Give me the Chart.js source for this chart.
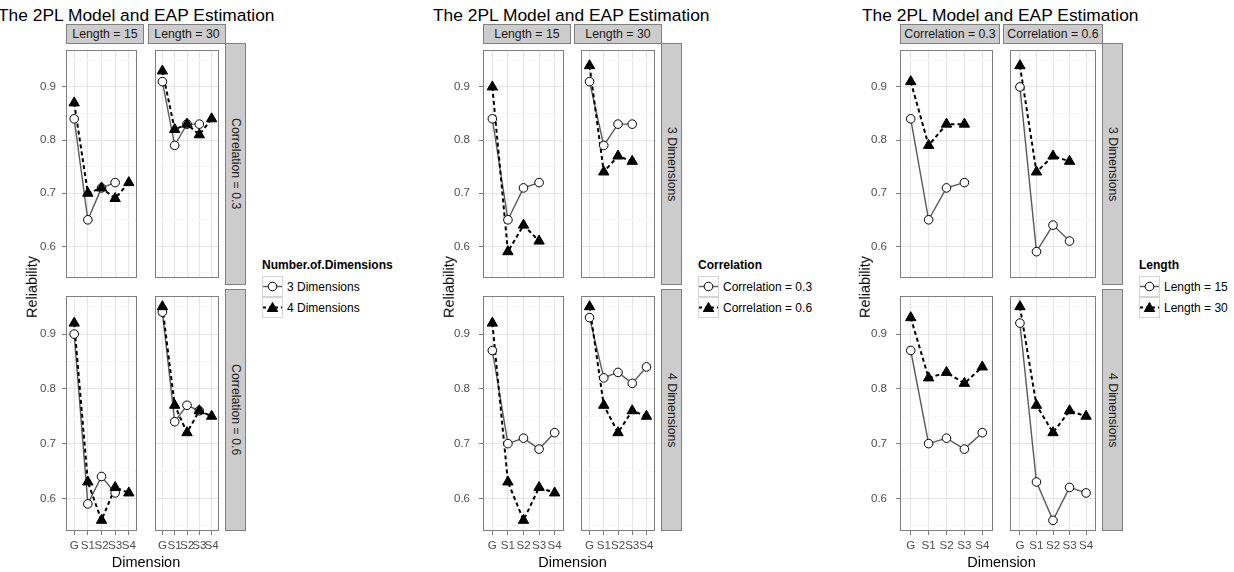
<!DOCTYPE html>
<html>
<head>
<meta charset="utf-8">
<title>The 2PL Model and EAP Estimation</title>
<script src="https://cdn.jsdelivr.net/npm/chart.js@4/dist/chart.umd.min.js"></script>
<style>
  html, body { margin: 0; padding: 0; background: #fff; }
  body { width: 1234px; height: 572px; position: relative; overflow: hidden;
         font-family: 'Liberation Sans', Arial, sans-serif; }
  canvas { position: absolute; }
  .txt { position: absolute; white-space: nowrap; line-height: 1; }
  .strip { position: absolute; box-sizing: border-box; background: #cccccc;
           border: 1px solid #7f7f7f; display: flex; align-items: center;
           justify-content: center; font-size: 12.3px; color: #1a1a1a; white-space: nowrap; }
  .strip.vert span { writing-mode: vertical-rl; }
  .key { position: absolute; box-sizing: border-box; border: 1px solid #d4d4d4; background: #fff; }
</style>
</head>
<body>
<script>
// ---- data -------------------------------------------------------------
const dimensionLabels = ['G', 'S1', 'S2', 'S3', 'S4'];
const yTickValues = [0.55, 0.6, 0.65, 0.7, 0.75, 0.8, 0.85, 0.9, 0.95];

const dimensionLevels = ['3 Dimensions', '4 Dimensions'];
const correlationLevels = ['Correlation = 0.3', 'Correlation = 0.6'];
const lengthLevels = ['Length = 15', 'Length = 30'];

// reliability per dimension: rel_<dimensions>_<correlation>_<length>
const rel_3D_r03_L15 = [0.84, 0.65, 0.71, 0.72];
const rel_3D_r03_L30 = [0.91, 0.79, 0.83, 0.83];
const rel_3D_r06_L15 = [0.90, 0.59, 0.64, 0.61];
const rel_3D_r06_L30 = [0.94, 0.74, 0.77, 0.76];
const rel_4D_r03_L15 = [0.87, 0.70, 0.71, 0.69, 0.72];
const rel_4D_r03_L30 = [0.93, 0.82, 0.83, 0.81, 0.84];
const rel_4D_r06_L15 = [0.92, 0.63, 0.56, 0.62, 0.61];
const rel_4D_r06_L30 = [0.95, 0.77, 0.72, 0.76, 0.75];

// y range: data range 0.56..0.95 expanded by 5%
const yMin = 0.5405;
const yMax = 0.9695;

// ---- lookup -----------------------------------------------------------
const reliability = {
  dim0: { corr0: { len0: rel_3D_r03_L15, len1: rel_3D_r03_L30 },
          corr1: { len0: rel_3D_r06_L15, len1: rel_3D_r06_L30 } },
  dim1: { corr0: { len0: rel_4D_r03_L15, len1: rel_4D_r03_L30 },
          corr1: { len0: rel_4D_r06_L15, len1: rel_4D_r06_L30 } }
};
const levels = { dim: dimensionLevels, corr: correlationLevels, len: lengthLevels };
function getSeries(f) { return reliability['dim' + f.dim]['corr' + f.corr]['len' + f.len]; }

// ---- layout -----------------------------------------------------------
const FONT = "'Liberation Sans', Arial, sans-serif";
const stripY = [24, 43];
const rowsY = [[43, 285], [289, 531]];

const plots = [
  { title: 'The 2PL Model and EAP Estimation', titleX: -2,
    cols: 'len', rows: 'corr', series: 'dim', legendTitle: 'Number.of.Dimensions',
    panelX: [[66, 144], [148, 226]], stripRight: 246, legendX: 262, yLabelX: 32, tickPad: 6 },
  { title: 'The 2PL Model and EAP Estimation', titleX: 433,
    cols: 'len', rows: 'dim', series: 'corr', legendTitle: 'Correlation',
    panelX: [[483, 571], [574, 662]], stripRight: 682, legendX: 698, yLabelX: 449, tickPad: 9 },
  { title: 'The 2PL Model and EAP Estimation', titleX: 862,
    cols: 'corr', rows: 'dim', series: 'len', legendTitle: 'Length',
    panelX: [[900, 1000], [1003, 1103]], stripRight: 1123, legendX: 1139, yLabelX: 865, tickPad: 9 }
];

const SOLID = '#5a5a5a';
const TICK_TEXT = '#4d4d4d';
const isMajor = v => Math.abs(v * 10 - Math.round(v * 10)) < 1e-6;

function addText(str, x, y, o) {
  const d = document.createElement('div');
  d.className = 'txt';
  d.textContent = str;
  d.style.left = x + 'px';
  d.style.top = y + 'px';
  d.style.fontSize = o.size + 'px';
  if (o.bold) d.style.fontWeight = 'bold';
  d.style.color = o.color || '#000';
  d.style.transform = o.transform || 'translateY(-50%)';
  document.body.appendChild(d);
}

function addStrip(str, x, y, w, h, vertical) {
  const d = document.createElement('div');
  d.className = 'strip' + (vertical ? ' vert' : '');
  d.style.left = x + 'px'; d.style.top = y + 'px';
  d.style.width = w + 'px'; d.style.height = h + 'px';
  const s = document.createElement('span');
  s.textContent = str;
  d.appendChild(s);
  document.body.appendChild(d);
}

const panelBorder = {
  id: 'panelBorder',
  afterDraw(chart) {
    const { ctx, chartArea: a } = chart;
    ctx.save();
    ctx.strokeStyle = '#7f7f7f';
    ctx.lineWidth = 1;
    ctx.strokeRect(a.left + 0.5, a.top + 0.5, a.width - 1, a.height - 1);
    ctx.restore();
  }
};

function toPoints(values) { return values.map((v, i) => ({ x: i, y: v })); }

function makePanel(plot, ci, ri) {
  const [L, R] = plot.panelX[ci];
  const [T, B] = rowsY[ri];
  const isLeft = ci === 0, isBottom = ri === 1;
  const leftExt = isLeft ? 50 : 0;
  const botExt = isBottom ? 26 : 0;

  const canvas = document.createElement('canvas');
  canvas.width = R - L + leftExt;
  canvas.height = B - T + botExt;
  canvas.style.left = (L - leftExt) + 'px';
  canvas.style.top = T + 'px';
  document.body.appendChild(canvas);

  const facet = s => {
    const f = {};
    f[plot.cols] = ci; f[plot.rows] = ri; f[plot.series] = s;
    return toPoints(getSeries(f));
  };
  const a = facet(0), b = facet(1);

  const datasets = [
    { data: a, borderColor: SOLID, borderWidth: 1.4, pointRadius: 0, order: 4, tension: 0 },
    { data: b, borderColor: '#000', borderWidth: 2, borderDash: [4, 3], pointRadius: 0, order: 3, tension: 0 },
    { data: a, showLine: false, pointStyle: 'circle', pointRadius: 4.3,
      pointBackgroundColor: '#fff', pointBorderColor: '#000', pointBorderWidth: 1, order: 2 },
    { data: b, showLine: false, pointStyle: 'triangle', pointRadius: 6,
      pointBackgroundColor: '#000', pointBorderColor: '#000', pointBorderWidth: 1, order: 1 }
  ];

  new Chart(canvas, {
    type: 'line',
    data: { datasets },
    options: {
      responsive: false, animation: false, events: [],
      devicePixelRatio: 1,
      layout: { padding: 0 },
      plugins: { legend: { display: false }, tooltip: { enabled: false } },
      scales: {
        x: {
          type: 'linear', min: -0.6, max: 4.6,
          afterBuildTicks: s => { s.ticks = dimensionLabels.map((_, i) => ({ value: i })); },
          afterFit: s => { s.height = botExt; s.paddingLeft = 0; s.paddingRight = 0; },
          ticks: { display: isBottom, autoSkip: false, maxRotation: 0, minRotation: 0, padding: 4,
                   color: TICK_TEXT, font: { family: FONT, size: 11.6 },
                   callback: v => dimensionLabels[v] },
          grid: { color: '#e5e5e5', lineWidth: 1, drawTicks: isBottom, tickLength: 4, tickColor: '#7f7f7f' },
          border: { display: false }
        },
        y: {
          type: 'linear', min: yMin, max: yMax,
          afterBuildTicks: s => { s.ticks = yTickValues.map(v => ({ value: v })); },
          afterFit: s => { s.width = leftExt; s.paddingTop = 0; s.paddingBottom = 0; },
          ticks: { display: isLeft, padding: plot.tickPad, color: TICK_TEXT, font: { family: FONT, size: 11.5 },
                   callback: v => isMajor(v) ? v.toFixed(1) : '' },
          grid: {
            color: c => (c.tick && isMajor(c.tick.value)) ? '#e5e5e5' : '#f5f5f5',
            lineWidth: 1, drawTicks: isLeft, tickLength: 4,
            tickColor: c => (c.tick && isMajor(c.tick.value)) ? '#7f7f7f' : 'rgba(0,0,0,0)'
          },
          border: { display: false }
        }
      }
    },
    plugins: [panelBorder]
  });
}

function keyIcon(series) {
  const ns = 'http://www.w3.org/2000/svg';
  const svg = document.createElementNS(ns, 'svg');
  svg.setAttribute('width', '19'); svg.setAttribute('height', '19');
  svg.style.position = 'absolute'; svg.style.left = '0'; svg.style.top = '0';
  const line = document.createElementNS(ns, 'line');
  line.setAttribute('x1', '0'); line.setAttribute('x2', '19');
  line.setAttribute('y1', '9.5'); line.setAttribute('y2', '9.5');
  if (series === 0) {
    line.setAttribute('stroke', SOLID); line.setAttribute('stroke-width', '1.4');
    svg.appendChild(line);
    const c = document.createElementNS(ns, 'circle');
    c.setAttribute('cx', '9.5'); c.setAttribute('cy', '9.5'); c.setAttribute('r', '4.3');
    c.setAttribute('fill', '#fff'); c.setAttribute('stroke', '#000'); c.setAttribute('stroke-width', '1');
    svg.appendChild(c);
  } else {
    line.setAttribute('stroke', '#000'); line.setAttribute('stroke-width', '2');
    line.setAttribute('stroke-dasharray', '3 3');
    svg.appendChild(line);
    const p = document.createElementNS(ns, 'polygon');
    const r = 6, cx = 9.5, cy = 10.5;
    p.setAttribute('points', [
      [cx, cy - r], [cx + r * 0.866, cy + r / 2], [cx - r * 0.866, cy + r / 2]
    ].map(q => q.join(',')).join(' '));
    p.setAttribute('fill', '#000'); p.setAttribute('stroke', '#000'); p.setAttribute('stroke-width', '1');
    svg.appendChild(p);
  }
  return svg;
}

function makeLegend(plot) {
  const x = plot.legendX;
  addText(plot.legendTitle, x, 265, { size: 12, bold: true, color: '#000' });
  levels[plot.series].forEach((lab, s) => {
    const top = 276 + s * 21;
    const box = document.createElement('div');
    box.className = 'key';
    box.style.left = x + 'px'; box.style.top = top + 'px';
    box.style.width = '21px'; box.style.height = '21px';
    box.appendChild(keyIcon(s));
    document.body.appendChild(box);
    addText(lab, x + 25, top + 10.5, { size: 12, color: '#000' });
  });
}

function makePlot(plot) {
  addText(plot.title, plot.titleX, 15.5, { size: 17.4, color: '#000' });
  const left = plot.panelX[0][0], right = plot.panelX[1][1];

  for (let ci = 0; ci < 2; ci++) {
    const [L, R] = plot.panelX[ci];
    addStrip(levels[plot.cols][ci], L, stripY[0], R - L, stripY[1] - stripY[0] + 1, false);
  }
  for (let ri = 0; ri < 2; ri++) {
    const [T, B] = rowsY[ri];
    addStrip(levels[plot.rows][ri], right - 1, T, plot.stripRight - right + 1, B - T, true);
  }
  for (let ri = 0; ri < 2; ri++)
    for (let ci = 0; ci < 2; ci++) makePanel(plot, ci, ri);

  addText('Dimension', (left + right) / 2, 562, { size: 14.5, transform: 'translate(-50%,-50%)' });
  addText('Reliability', plot.yLabelX, 287, { size: 14.5, transform: 'translate(-50%,-50%) rotate(-90deg)' });
  makeLegend(plot);
}

plots.forEach(makePlot);
</script>
</body>
</html>
